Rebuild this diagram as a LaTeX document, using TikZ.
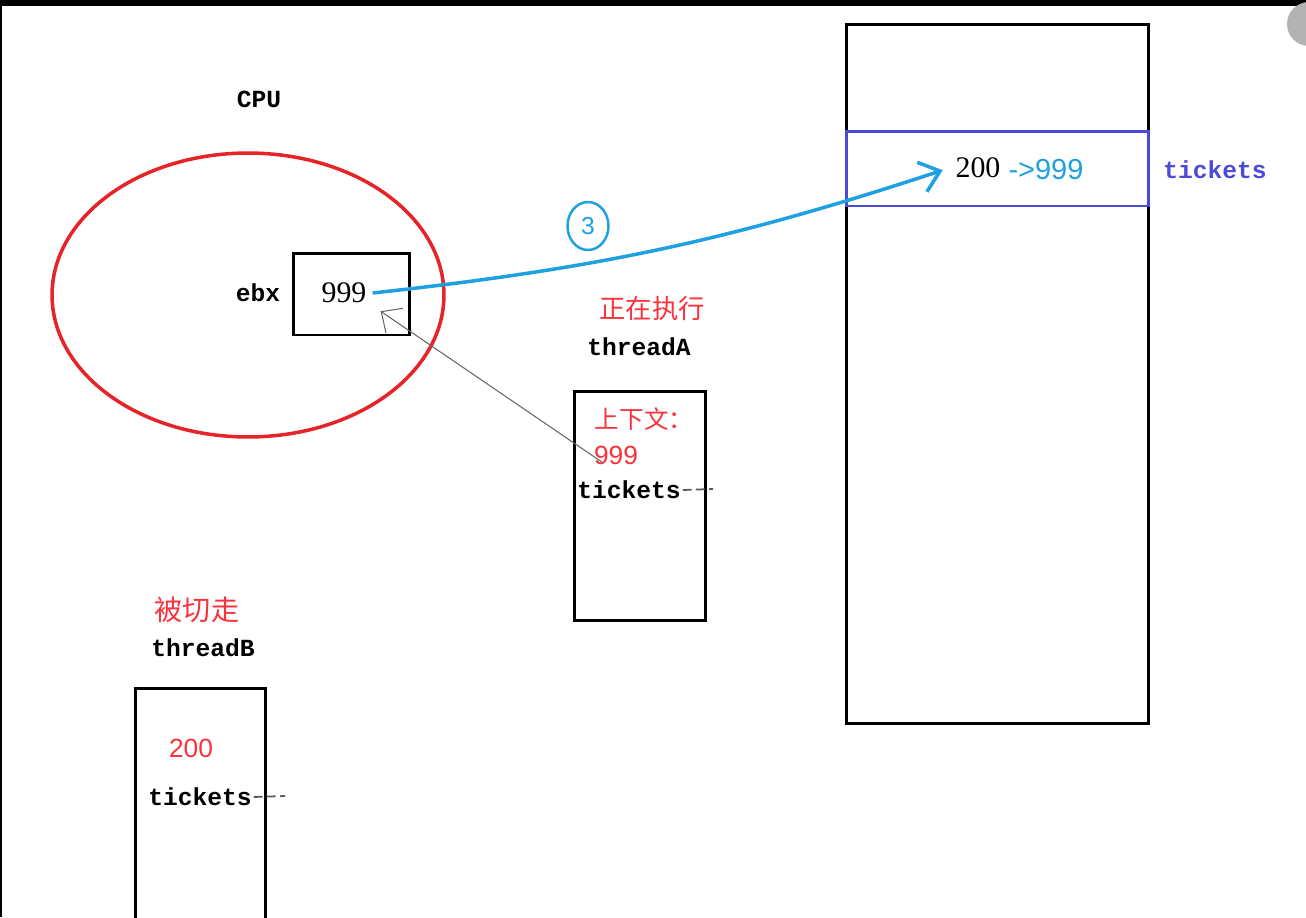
\documentclass[tikz,border=0pt]{standalone}
\usepackage{fontspec}
\setmainfont{Liberation Serif}
\setsansfont{Liberation Sans}
\setmonofont{Liberation Mono}
\newfontfamily\cjk{Noto Sans CJK SC}
\usetikzlibrary{arrows.meta,shapes.geometric}
\definecolor{cpured}{RGB}{230,35,40}
\definecolor{txtred}{RGB}{250,50,60}
\definecolor{arrowblue}{RGB}{30,160,225}
\definecolor{memblue}{RGB}{75,75,215}
\tikzset{
  box/.style={draw, line width=1.7pt, inner sep=0pt},
  mono/.style={font=\ttfamily\bfseries\fontsize{14}{16}\selectfont, inner sep=1pt},
  hanzi/.style={font=\cjk\fontsize{15}{18}\selectfont, text=txtred},
  num/.style={font=\fontsize{17}{20}\selectfont},
  rednum/.style={font=\sffamily\fontsize{15}{18}\selectfont, text=txtred},
  dashes/.style={gray!70!black, line width=1pt, dash pattern=on 5pt off 2.5pt}
}
\begin{document}
\begin{tikzpicture}[x=0.02cm, y=-0.02cm]
  \useasboundingbox (0,0) rectangle (1306,917);
  \fill[black] (0,0) rectangle (1306,6);
  \fill[black] (0,0) rectangle (2,917);
  \fill[gray!60] (1309,24) circle (22);

  % memory
  \node (mem) at (997.5,374) [box, minimum width=6.06cm, minimum height=14cm] {};
  \node (slot) at (997.5,168.5) [box, draw=memblue, minimum width=6.06cm, minimum height=1.5cm] {};
  \node (old) at (978,168) [num] {200};
  \node (new) at (1046,170) [font=\sffamily\fontsize{16.5}{19}\selectfont, text=arrowblue] {->999};
  \node (memlbl) at (1215,170) [mono, text=memblue] {tickets};

  % cpu
  \node (cpulbl) at (259,99) [mono] {CPU};
  \node (cpu) at (248,295) [ellipse, draw=cpured, line width=2pt, minimum width=7.84cm, minimum height=5.68cm] {};
  \node (ebx) at (351.5,294) [box, minimum width=2.34cm, minimum height=1.64cm] {};
  \node (ebxlbl) at (258,293) [mono] {ebx};
  \node (ebxval) at (344,293) [num] {999};

  % thread A
  \node (tastate) at (652,309) [hanzi] {正在执行};
  \node (taname) at (639,347) [mono] {threadA};
  \node (ta) at (640,506) [box, minimum width=2.64cm, minimum height=4.6cm] {};
  \node (tactx) at (644,419) [hanzi, font=\cjk\fontsize{14}{17}\selectfont] {上下文：};
  \node (taval) at (616,455) [rednum] {999};
  \node (tatick) at (629,490) [mono] {tickets};
  \coordinate (tadash) at (713,489);
  \draw[dashes] (tatick.east) -- (tadash);

  % thread B
  \node (tbstate) at (197,610) [hanzi, font=\cjk\fontsize{16}{19}\selectfont] {被切走};
  \node (tbname) at (203,648) [mono] {threadB};
  \node (tb) at (200.5,815) [box, minimum width=2.62cm, minimum height=5.08cm] {};
  \node (tbval) at (191,748) [rednum] {200};
  \node (tbtick) at (200,797) [mono] {tickets};
  \coordinate (tbdash) at (285,796);
  \draw[dashes] (tbtick.east) -- (tbdash);

  % arrows
  \node (three) at (588,226) [ellipse, draw=arrowblue, line width=1.4pt, minimum width=0.82cm, minimum height=0.96cm, inner sep=0pt, text=arrowblue, font=\sffamily\fontsize{14}{16}\selectfont] {3};
  \draw[arrowblue, line width=2pt, shorten >=0.14cm, -{Straight Barb[length=0.38cm, width=0.62cm]}] (ebxval.east) to[bend right=6] (old.west);
  \draw[gray!80!black, line width=0.6pt, -{Straight Barb[length=0.32cm, width=0.6cm]}] ([shift={(0.28cm,-0.14cm)}]taval.west) -- ([shift={(0.16cm,-0.04cm)}]ebxval.south east);
\end{tikzpicture}
\end{document}
